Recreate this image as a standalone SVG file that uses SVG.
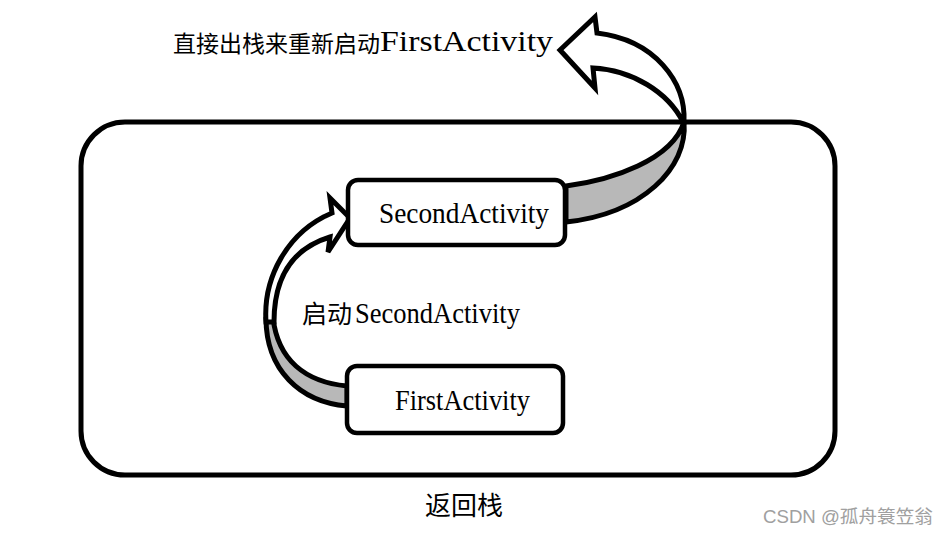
<svg xmlns="http://www.w3.org/2000/svg" width="948" height="537" viewBox="0 0 948 537">
<style>
.box{fill:#fff;stroke:#000;stroke-width:4.5}
.frame{fill:none;stroke:#000;stroke-width:5}
.arrow{fill:#fff;stroke:#000;stroke-width:5;stroke-linejoin:miter}
.ribbon{fill:#b8b8b8;stroke:#000;stroke-width:5;stroke-linejoin:round}
.lat{font-family:"Liberation Serif","Noto Sans CJK SC",serif;fill:#000}
.cjk{font-family:"Noto Sans CJK SC","Liberation Serif",serif;fill:#000}
.wm{font-family:"Liberation Sans","Noto Sans CJK SC",sans-serif;fill:#a0a0a0}
</style>
<rect width="948" height="537" fill="#fff"/>
<g id="stack">
<rect class="frame" x="81" y="122" width="754" height="353" rx="44" ry="44"/>
<text class="cjk" x="425" y="515" font-size="26">返回栈</text>
</g>
<g id="connectors">
<path class="ribbon" d="M 566,186 C 612,180 672,160 684,122 C 688,168 642,214 566,222 Z"/>
<path class="arrow" d="M 684,122 C 686,82 655,40 597,33 L 595,17 L 560,50 L 595,88 L 593,68 C 632,70 668,92 683,122 Z"/>
<path class="ribbon" d="M 266,318 C 266,370 300,402 347,406 L 347,386 C 305,382 278,360 273,318 Z"/>
<path class="arrow" d="M 266,322 C 263,278 287,232 332,213 L 330,198 L 350,218 L 328,252 L 330,237 C 297,247 274,272 274,322 Z"/>
</g>
<g id="label-top">
<text class="cjk" x="173" y="52" font-size="23">直接出栈来重新启动</text>
<text class="lat" x="380" y="51" font-size="29" textLength="173" lengthAdjust="spacingAndGlyphs">FirstActivity</text>
</g>
<g id="label-start">
<text class="cjk" x="302" y="323" font-size="25">启动</text>
<text class="lat" x="355" y="323" font-size="29" textLength="165" lengthAdjust="spacingAndGlyphs">SecondActivity</text>
</g>
<g id="second">
<rect class="box" x="348" y="180" width="217" height="65" rx="10" ry="10"/>
<text class="lat" x="379" y="223" font-size="30" textLength="170" lengthAdjust="spacingAndGlyphs">SecondActivity</text>
</g>
<g id="first">
<rect class="box" x="347" y="366" width="216" height="67" rx="10" ry="10"/>
<text class="lat" x="395" y="410" font-size="30" textLength="135" lengthAdjust="spacingAndGlyphs">FirstActivity</text>
</g>
<text class="wm" x="763" y="523" font-size="18" textLength="170" lengthAdjust="spacingAndGlyphs">CSDN @孤舟簑笠翁</text>
</svg>
